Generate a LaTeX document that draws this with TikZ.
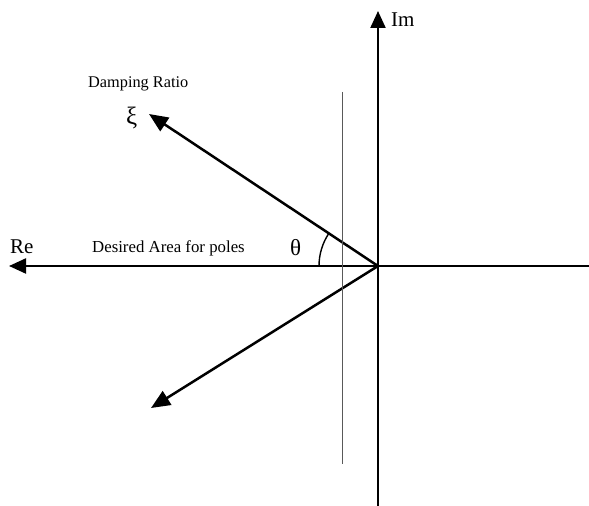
\documentclass[tikz,border=0pt]{standalone}
\usepackage{fontspec}
\setmainfont{Liberation Serif}
\usetikzlibrary{arrows.meta,calc}

\begin{document}
\begin{tikzpicture}[
  x=1pt,y=1pt,
  axis/.style={line width=2.2pt,-{Triangle[length=17pt,width=15pt]}},
  ray/.style={line width=2.5pt,-{Triangle[length=19pt,width=16pt]}},
  lbl/.style={inner sep=0pt,anchor=base west,font=\fontsize{#1}{#1}\selectfont}
]
  \useasboundingbox (0,0) rectangle (589,506);
  % axes and the origin
  \coordinate (O) at (378,240);
  \coordinate (reEnd) at (9,240);
  \coordinate (reStart) at (589,240);
  \coordinate (imEnd) at (378,495);
  \coordinate (imStart) at (378,0);
  \draw[axis] (reStart) -- (reEnd);
  \draw[axis] (imStart) -- (imEnd);
  % damping rays
  \coordinate (upTip) at (149,392);
  \coordinate (lowTip) at (151,98);
  \draw[ray] (O) -- (upTip);
  \draw[ray] (O) -- (lowTip);
  % boundary line and angle
  \coordinate (lineTop) at (342,414);
  \coordinate (lineBot) at (342,42);
  \draw[gray!70!black,line width=1pt] (lineTop) -- (lineBot);
  \draw[line width=1.4pt] ($(O)+(-59,0)$) arc[start angle=180,end angle=146.4,radius=59];
  % labels
  \node[lbl=21] (re) at (10,252) {Re};
  \node[lbl=21] (im) at (391,479) {Im};
  \node[lbl=16.8] (area) at (92,253) {Desired Area for poles};
  \node[lbl=16.3] (ratio) at (88,418) {Damping Ratio};
  \node[lbl=23] (theta) at (290,250) {θ};
  \node[lbl=25] (xi) at (126,381) {ξ};
\end{tikzpicture}
\end{document}
